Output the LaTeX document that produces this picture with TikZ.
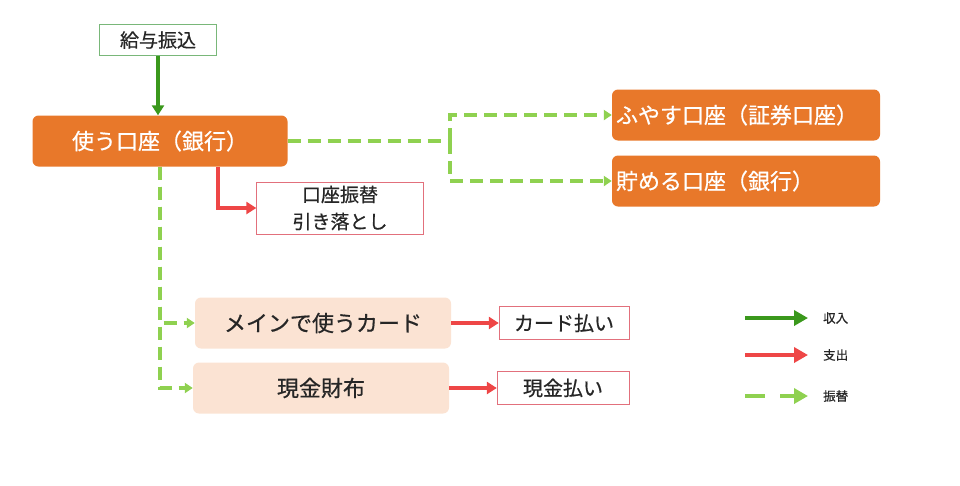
\documentclass[tikz,border=0pt]{standalone}
\usepackage{fontspec}
\setmainfont{Noto Sans CJK JP}[AutoFakeBold=0.6]
\usetikzlibrary{arrows.meta,positioning}
\definecolor{acct}{HTML}{E8782A}
\definecolor{peach}{HTML}{FBE3D3}
\definecolor{income}{HTML}{3A981C}
\definecolor{outgo}{HTML}{EE4646}
\definecolor{xfer}{HTML}{8FD150}
\definecolor{gborder}{HTML}{79B779}
\definecolor{rborder}{HTML}{E2707C}
\definecolor{ink}{HTML}{262626}

\begin{document}
\begin{tikzpicture}[x=1pt, y=-1pt,
  every node/.style={font=\bfseries\fontsize{19}{26}\selectfont, text=ink, inner sep=0pt},
  acctbox/.style={fill=acct, rounded corners=6pt, text=white, minimum width=255pt, minimum height=51pt, font=\bfseries\fontsize{22}{26}\selectfont},
  walletbox/.style={fill=peach, rounded corners=6pt, minimum width=256pt, minimum height=51pt, font=\bfseries\fontsize{22}{26}\selectfont},
  paybox/.style={draw=rborder, thin, fill=white, minimum height=33pt, font=\bfseries\fontsize{20}{24}\selectfont},
  inflow/.style={draw=income, line width=3.5pt, -{Triangle[length=10pt,width=12pt]}},
  outflow/.style={draw=outgo, line width=3.5pt, -{Triangle[length=10pt,width=12pt]}},
  transfer/.style={draw=xfer, line width=3.2pt, dash pattern=on 13pt off 7pt},
  legendtext/.style={font=\bfseries\fontsize{12.5}{15}\selectfont, anchor=west}]
  \useasboundingbox (0,0) rectangle (960,485);

  % Income
  \node[draw=gborder, thin, minimum width=117pt, minimum height=31pt] (salary) at (158,40) {給与振込};

  % Main account
  \node[acctbox] (use) at (160,141) {使う口座（銀行）};
  \draw[inflow] (salary.south) -- (use.north -| salary.south);

  % Direct debit
  \node[paybox, minimum width=167pt, minimum height=52pt, align=center, font=\bfseries\fontsize{19}{27}\selectfont] (debit) at (340,208) {口座振替\\引き落とし};
  \draw[outflow] ([xshift=58pt]use.south) |- (debit.west);

  % Saving accounts
  \node[acctbox, minimum width=268pt, text width=260pt, align=left] (grow) at (746,115) {ふやす口座（証券口座）};
  \node[acctbox, minimum width=268pt, text width=260pt, align=left] (save) at (746,181) {貯める口座（銀行）};
  \coordinate (split) at (450,141);
  \draw[transfer] (use.east) -- (split);
  \draw[transfer, -{Triangle[length=8pt,width=10pt]}] (split) |- (grow.west);
  \draw[transfer, -{Triangle[length=8pt,width=10pt]}] (split) |- (save.west);

  % Card and wallet
  \node[walletbox] (card) at (323,323) {メインで使うカード};
  \node[walletbox] (wallet) at (321,388) {現金財布};
  \draw[transfer, -{Triangle[length=8pt,width=10pt]}] (use.south) |- (card.west);
  \draw[transfer, -{Triangle[length=8pt,width=10pt]}] (use.south) |- (wallet.west);

  \node[paybox, minimum width=130pt] (cardpay) at (564,323) {カード払い};
  \node[paybox, minimum width=132pt] (cashpay) at (563,388) {現金払い};
  \draw[outflow] (card.east) -- (cardpay.west);
  \draw[outflow] (wallet.east) -- (cashpay.west);

  % Legend
  \coordinate (l1a) at (745,318); \coordinate (l1b) at (808,318);
  \coordinate (l2a) at (745,355); \coordinate (l2b) at (808,355);
  \coordinate (l3a) at (745,396); \coordinate (l3b) at (808,396);
  \draw[inflow, line width=4pt, -{Triangle[length=14pt,width=15pt]}] (l1a) -- (l1b);
  \draw[outflow, line width=4pt, -{Triangle[length=14pt,width=15pt]}] (l2a) -- (l2b);
  \draw[transfer, line width=4pt, dash pattern=on 20pt off 15pt, -{Triangle[length=14pt,width=15pt]}] (l3a) -- (l3b);
  \node[legendtext] (lin) at (823,318) {収入};
  \node[legendtext] (lout) at (823,355) {支出};
  \node[legendtext] (lxfer) at (823,396) {振替};
\end{tikzpicture}
\end{document}
